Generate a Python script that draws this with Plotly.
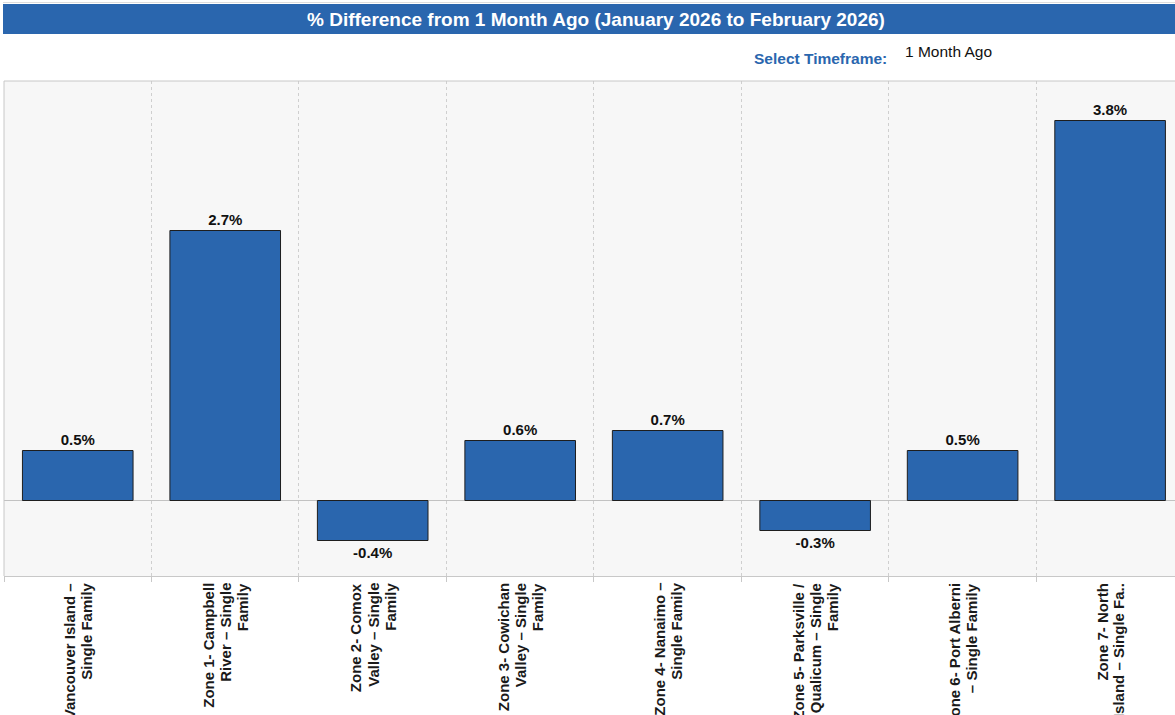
import plotly.graph_objects as go

# Region labels, one list entry per wrapped line under the axis
regions = [
    ["Vancouver Island –", "Single Family"],
    ["Zone 1- Campbell", "River – Single", "Family"],
    ["Zone 2- Comox", "Valley – Single", "Family"],
    ["Zone 3- Cowichan", "Valley – Single", "Family"],
    ["Zone 4- Nanaimo –", "Single Family"],
    ["Zone 5- Parksville /", "Qualicum – Single", "Family"],
    ["Zone 6- Port Alberni", "– Single Family"],
    ["Zone 7- North", "Island – Single Fa.."],
]
# Percent change from one month ago
pct_change = [0.5, 2.7, -0.4, 0.6, 0.7, -0.3, 0.5, 3.8]

title_text = "% Difference from 1 Month Ago (January 2026 to February 2026)"
timeframe_label = "Select Timeframe:"
timeframe_value = "1 Month Ago"

BLUE = "#2A66AE"
FONT = "Liberation Sans, Arial, sans-serif"
W, H = 1175, 715
M_L, M_T, M_B = 4, 81, 139
PLOT_W = W - M_L
PLOT_H = H - M_T - M_B


def px_x(px):
    """Page x pixel -> paper fraction."""
    return (px - M_L) / PLOT_W


def px_y(py):
    """Page y pixel (from top) -> paper fraction."""
    return (H - M_B - py) / PLOT_H


positions = list(range(len(regions)))

fig = go.Figure(
    go.Bar(
        x=positions,
        y=pct_change,
        width=0.75,
        marker=dict(color=BLUE, line=dict(color="#1e1e1e", width=1)),
        text=[f"<b>{v:.1f}%</b>" for v in pct_change],
        textposition="outside",
        cliponaxis=False,
        textfont=dict(family=FONT, size=15, color="#111111"),
        hoverinfo="skip",
    )
)

fig.update_layout(
    width=W,
    height=H,
    margin=dict(l=M_L, r=0, t=M_T, b=M_B),
    paper_bgcolor="white",
    plot_bgcolor="#F7F7F7",
    showlegend=False,
    font=dict(family=FONT),
)

fig.update_xaxes(
    range=[-0.5, 7.44],
    tickmode="array",
    tickvals=positions,
    showticklabels=False,
    ticks="",
    showgrid=False,
    zeroline=False,
    showline=True,
    linecolor="#C8C8C8",
    linewidth=1,
    minor=dict(
        tick0=0.5,
        dtick=1,
        showgrid=True,
        griddash="dot",
        gridcolor="#CFCFCF",
        gridwidth=1,
        ticks="outside",
        ticklen=5,
        tickcolor="#C8C8C8",
    ),
    fixedrange=True,
)

fig.update_yaxes(
    range=[-0.755, 4.195],
    showticklabels=False,
    showgrid=False,
    zeroline=True,
    zerolinecolor="#C2C2C2",
    zerolinewidth=1,
    ticks="",
    fixedrange=True,
)

# Category labels: rotated lines, right-aligned against the axis
LINE_STEP = 17
for pos, lines in zip(positions, regions):
    n = len(lines)
    for j, line in enumerate(lines):
        fig.add_annotation(
            xref="x", yref="paper",
            x=pos, xshift=(j - (n - 1) / 2) * LINE_STEP,
            y=px_y(582),
            text=f"<b>{line}</b>", showarrow=False,
            textangle=-90,
            xanchor="center", yanchor="top",
            borderpad=0,
            font=dict(family=FONT, size=15, color="#1a1a1a"),
        )

# Frame: left and top borders of the plot area
fig.add_shape(type="line", xref="paper", yref="paper", x0=0, x1=0, y0=0, y1=1,
              line=dict(color="#C8C8C8", width=1))
fig.add_shape(type="line", xref="paper", yref="paper", x0=0, x1=1, y0=1, y1=1,
              line=dict(color="#C8C8C8", width=1))

# Title banner
fig.add_shape(type="line", xref="paper", yref="paper", x0=px_x(3), x1=1.02,
              y0=px_y(2.5), y1=px_y(2.5),
              line=dict(color="#DDDDDD", width=1))
fig.add_shape(type="rect", xref="paper", yref="paper",
              x0=px_x(3), x1=1.02, y0=px_y(34), y1=px_y(4),
              fillcolor=BLUE, line=dict(width=0))
fig.add_annotation(
    xref="paper", yref="paper",
    x=px_x(596), y=px_y(19.5),
    text=f"<b>{title_text}</b>", showarrow=False,
    xanchor="center", yanchor="middle",
    font=dict(family=FONT, size=19, color="white"),
)

# Timeframe selector
fig.add_annotation(
    xref="paper", yref="paper",
    x=px_x(889), y=px_y(58.5),
    text=f"<b>{timeframe_label}</b>", showarrow=False,
    xanchor="right", yanchor="middle",
    font=dict(family=FONT, size=15.5, color="#2A66AE"),
)
fig.add_annotation(
    xref="paper", yref="paper",
    x=px_x(903), y=px_y(51.5),
    text=timeframe_value, showarrow=False,
    xanchor="left", yanchor="middle",
    font=dict(family=FONT, size=15.5, color="#111111"),
)

fig.write_html("out.html", config={"displayModeBar": False})
